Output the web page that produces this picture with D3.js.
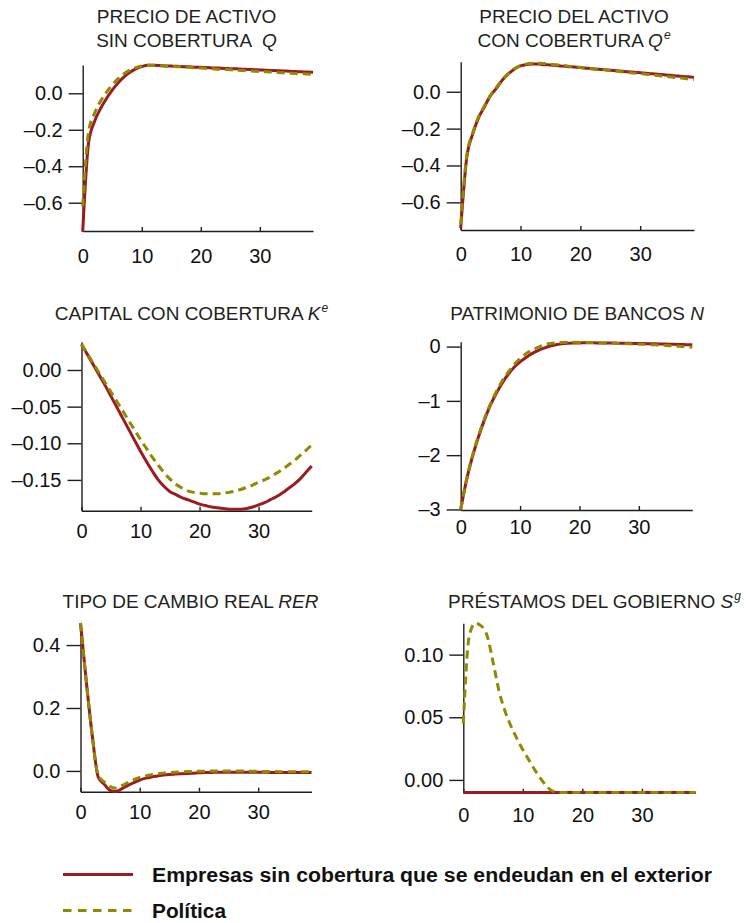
<!DOCTYPE html>
<html>
<head>
<meta charset="utf-8">
<script src="https://cdn.jsdelivr.net/npm/d3@7"></script>
<style>
  html, body { margin: 0; padding: 0; background: #fff; }
  svg { display: block; }
</style>
</head>
<body>
<div id="chart"></div>
<script>
// Impulse responses, periods 0..39
const periods = d3.range(0, 40);

const seriesNames = ["Empresas sin cobertura que se endeudan en el exterior", "Política"];

// Precio de activo sin cobertura Q
const qUnhedged = [-0.76, -0.27, -0.155, -0.085, -0.03, 0.017, 0.057, 0.09, 0.115, 0.134,
  0.146, 0.153, 0.153, 0.152, 0.150, 0.149, 0.148, 0.146, 0.145, 0.143,
  0.142, 0.141, 0.139, 0.138, 0.136, 0.135, 0.134, 0.132, 0.131, 0.129,
  0.128, 0.126, 0.125, 0.124, 0.122, 0.121, 0.119, 0.118, 0.116, 0.115];
const qPolicy = [-0.62, -0.21, -0.11, -0.045, 0.005, 0.045, 0.08, 0.107, 0.127, 0.141,
  0.150, 0.154, 0.153, 0.151, 0.149, 0.147, 0.146, 0.144, 0.142, 0.140,
  0.138, 0.136, 0.134, 0.132, 0.131, 0.129, 0.127, 0.125, 0.123, 0.121,
  0.119, 0.118, 0.116, 0.114, 0.112, 0.110, 0.108, 0.107, 0.105, 0.103];

// Precio del activo con cobertura Qe
const qeUnhedged = [-0.74, -0.36, -0.23, -0.14, -0.08, -0.02, 0.02, 0.065, 0.098, 0.124,
  0.140, 0.148, 0.151, 0.150, 0.147, 0.145, 0.142, 0.139, 0.136, 0.134,
  0.131, 0.128, 0.125, 0.122, 0.120, 0.117, 0.114, 0.111, 0.108, 0.106,
  0.103, 0.100, 0.097, 0.095, 0.092, 0.089, 0.086, 0.083, 0.081, 0.078];
const qePolicy = [-0.72, -0.35, -0.225, -0.135, -0.075, -0.018, 0.025, 0.068, 0.100, 0.126,
  0.142, 0.150, 0.154, 0.155, 0.153, 0.150, 0.146, 0.143, 0.139, 0.136,
  0.132, 0.129, 0.125, 0.122, 0.119, 0.115, 0.112, 0.108, 0.105, 0.101,
  0.098, 0.095, 0.091, 0.088, 0.084, 0.081, 0.077, 0.074, 0.070, 0.067];

// Capital con cobertura Ke
const keUnhedged = [0.035, 0.021, 0.007, -0.007, -0.021, -0.036, -0.051, -0.066, -0.081, -0.096,
  -0.111, -0.125, -0.138, -0.150, -0.159, -0.166, -0.170, -0.174, -0.177, -0.180,
  -0.183, -0.185, -0.187, -0.188, -0.189, -0.190, -0.190, -0.190, -0.189, -0.187,
  -0.184, -0.181, -0.177, -0.173, -0.168, -0.162, -0.156, -0.149, -0.140, -0.131];
const kePolicy = [0.035, 0.022, 0.009, -0.004, -0.017, -0.030, -0.043, -0.056, -0.069, -0.082,
  -0.095, -0.107, -0.119, -0.130, -0.140, -0.149, -0.156, -0.161, -0.165, -0.167,
  -0.168, -0.169, -0.169, -0.169, -0.168, -0.167, -0.165, -0.163, -0.160, -0.157,
  -0.153, -0.150, -0.146, -0.141, -0.136, -0.130, -0.124, -0.117, -0.110, -0.102];

// Patrimonio de bancos N
const nUnhedged = [-3.00, -2.45, -2.02, -1.66, -1.35, -1.08, -0.86, -0.67, -0.51, -0.38,
  -0.28, -0.20, -0.13, -0.075, -0.03, 0.01, 0.035, 0.05, 0.06, 0.065,
  0.068, 0.069, 0.069, 0.068, 0.067, 0.066, 0.064, 0.063, 0.061, 0.059,
  0.057, 0.055, 0.052, 0.050, 0.047, 0.044, 0.041, 0.038, 0.035, 0.032];
const nPolicy = [-3.00, -2.44, -2.00, -1.64, -1.33, -1.06, -0.83, -0.63, -0.47, -0.33,
  -0.22, -0.13, -0.065, -0.015, 0.03, 0.055, 0.07, 0.076, 0.078, 0.078,
  0.077, 0.075, 0.073, 0.070, 0.067, 0.064, 0.061, 0.057, 0.053, 0.049,
  0.045, 0.041, 0.036, 0.031, 0.025, 0.017, 0.010, 0.004, -0.003, -0.010];

// Tipo de cambio real RER
const rerUnhedged = [0.47, 0.28, 0.11, -0.02, -0.042, -0.062, -0.065, -0.056, -0.046, -0.037,
  -0.029, -0.023, -0.019, -0.016, -0.013, -0.011, -0.010, -0.009, -0.008, -0.007,
  -0.006, -0.005, -0.005, -0.004, -0.004, -0.004, -0.004, -0.004, -0.004, -0.004,
  -0.004, -0.004, -0.005, -0.005, -0.005, -0.005, -0.005, -0.005, -0.005, -0.005];
const rerPolicy = [0.47, 0.28, 0.11, -0.015, -0.035, -0.050, -0.055, -0.047, -0.037, -0.028,
  -0.021, -0.016, -0.012, -0.009, -0.007, -0.005, -0.004, -0.003, -0.002, -0.002,
  -0.001, -0.001, 0.000, 0.000, 0.000, 0.000, 0.000, 0.000, -0.001, -0.001,
  -0.001, -0.002, -0.002, -0.002, -0.003, -0.003, -0.003, -0.003, -0.003, -0.003];

// Préstamos del gobierno Sg
const sgUnhedged = [-0.01, -0.01, -0.01, -0.01, -0.01, -0.01, -0.01, -0.01, -0.01, -0.01,
  -0.01, -0.01, -0.01, -0.01, -0.01, -0.01, -0.01, -0.01, -0.01, -0.01,
  -0.01, -0.01, -0.01, -0.01, -0.01, -0.01, -0.01, -0.01, -0.01, -0.01,
  -0.01, -0.01, -0.01, -0.01, -0.01, -0.01, -0.01, -0.01, -0.01, -0.01];
const sgPolicy = [0.045, 0.115, 0.125, 0.123, 0.115, 0.094, 0.071, 0.055, 0.043, 0.033,
  0.024, 0.016, 0.008, 0.001, -0.005, -0.009, -0.01, -0.01, -0.01, -0.01,
  -0.01, -0.01, -0.01, -0.01, -0.01, -0.01, -0.01, -0.01, -0.01, -0.01,
  -0.01, -0.01, -0.01, -0.01, -0.01, -0.01, -0.01, -0.01, -0.01, -0.01];

// Tick values and labels
const xTicks = [0, 10, 20, 30];
const xTickLabels = ["0", "10", "20", "30"];
const qTicks = [0, -0.2, -0.4, -0.6];
const qTickLabels = ["0.0", "–0.2", "–0.4", "–0.6"];
const keTicks = [0, -0.05, -0.10, -0.15];
const keTickLabels = ["0.00", "–0.05", "–0.10", "–0.15"];
const nTicks = [0, -1, -2, -3];
const nTickLabels = ["0", "–1", "–2", "–3"];
const rerTicks = [0.4, 0.2, 0];
const rerTickLabels = ["0.4", "0.2", "0.0"];
const sgTicks = [0.10, 0.05, 0];
const sgTickLabels = ["0.10", "0.05", "0.00"];

const RED = "#9c1b1f";
const OLIVE = "#8f8a00";
const INK = "#1e1e1e";

// Panel layout
const panels = [
  { title: [[{ t: "PRECIO DE ACTIVO" }], [{ t: "SIN COBERTURA" }, { t: "Q", i: true, dx: 10 }]],
    tx: 186.5, ty: [23.3, 46.5],
    box: { l: 82.7, r: 313, t: 65, b: 231 }, yDom: [-0.755, 0.155],
    yTicks: qTicks, yLabels: qTickLabels, xPad: 18,
    a: qUnhedged, b: qPolicy },
  { title: [[{ t: "PRECIO DEL ACTIVO" }], [{ t: "CON COBERTURA " }, { t: "Q", i: true }, { t: "e", i: true, sup: true }]],
    tx: 574, ty: [23.3, 46.5],
    box: { l: 460.7, r: 694, t: 61.7, b: 230 }, yDom: [-0.75, 0.163],
    yTicks: qTicks, yLabels: qTickLabels, xPad: 17,
    a: qeUnhedged, b: qePolicy },
  { title: [[{ t: "CAPITAL CON COBERTURA " }, { t: "K", i: true }, { t: "e", i: true, sup: true }]],
    tx: 191.5, ty: [320],
    box: { l: 81.5, r: 311.7, t: 341.7, b: 510.7 }, yDom: [-0.192, 0.0386],
    yTicks: keTicks, yLabels: keTickLabels, xPad: 13,
    a: keUnhedged, b: kePolicy },
  { title: [[{ t: "PATRIMONIO DE BANCOS " }, { t: "N", i: true }]],
    tx: 577, ty: [320],
    box: { l: 460.7, r: 692.3, t: 341.7, b: 510 }, yDom: [-3.01, 0.09],
    yTicks: nTicks, yLabels: nTickLabels, xPad: 10,
    a: nUnhedged, b: nPolicy },
  { title: [[{ t: "TIPO DE CAMBIO REAL " }, { t: "RER", i: true }]],
    tx: 190.5, ty: [608.3],
    box: { l: 80.5, r: 311.5, t: 622.7, b: 791.7 }, yDom: [-0.066, 0.471],
    yTicks: rerTicks, yLabels: rerTickLabels, xPad: 13,
    a: rerUnhedged, b: rerPolicy },
  { title: [[{ t: "PRÉSTAMOS DEL GOBIERNO " }, { t: "S", i: true }, { t: "g", i: true, sup: true }]],
    tx: 594.5, ty: [608.3],
    box: { l: 463.3, r: 695.5, t: 623.3, b: 792.7 }, yDom: [-0.0102, 0.125],
    yTicks: sgTicks, yLabels: sgTickLabels, xPad: 15,
    a: sgUnhedged, b: sgPolicy }
];

const W = 748, H = 923;
const FONT = "'Liberation Sans', Arial, Helvetica, sans-serif";

const svg = d3.select("#chart").append("svg")
  .attr("width", W).attr("height", H)
  .attr("viewBox", `0 0 ${W} ${H}`)
  .style("font-family", FONT);

svg.append("rect").attr("width", W).attr("height", H).attr("fill", "#fff");

panels.forEach(p => {
  const g = svg.append("g");
  const x = d3.scaleLinear().domain([0, 39]).range([p.box.l, p.box.r]);
  const y = d3.scaleLinear().domain(p.yDom).range([p.box.b, p.box.t]);

  // Title lines
  p.title.forEach((line, li) => {
    const t = g.append("text")
      .attr("x", p.tx).attr("y", p.ty[li])
      .attr("text-anchor", "middle")
      .attr("font-size", 19).attr("fill", "#231f20");
    line.forEach(part => {
      const ts = t.append("tspan").text(part.t);
      if (part.i) ts.attr("font-style", "italic");
      if (part.dx) ts.attr("dx", part.dx);
      if (part.sup) ts.attr("font-size", 12).attr("dy", -8).attr("dx", 1);
    });
  });

  // Y axis
  const yAxis = d3.axisLeft(y)
    .tickValues(p.yTicks)
    .tickFormat((d, i) => p.yLabels[i])
    .tickSizeInner(14).tickSizeOuter(0).tickPadding(6);
  const ya = g.append("g").attr("transform", `translate(${p.box.l},0)`).call(yAxis);
  ya.select(".domain").attr("stroke", INK).attr("stroke-width", 1.4);
  ya.selectAll(".tick line").attr("stroke", INK).attr("stroke-width", 1.4);
  ya.selectAll(".tick text").attr("font-size", 20).attr("fill", "#111").attr("font-family", FONT);

  // X axis, ticks pointing inward
  const xAxis = d3.axisBottom(x)
    .tickValues(xTicks)
    .tickFormat((d, i) => xTickLabels[i])
    .tickSizeInner(-4).tickSizeOuter(0).tickPadding(p.xPad);
  const xa = g.append("g").attr("transform", `translate(0,${p.box.b})`).call(xAxis);
  xa.select(".domain").attr("stroke", INK).attr("stroke-width", 1.4);
  xa.selectAll(".tick line").attr("stroke", INK).attr("stroke-width", 1.4);
  xa.selectAll(".tick text").attr("font-size", 20).attr("fill", "#111").attr("font-family", FONT);

  const line = d3.line()
    .x((d, i) => x(periods[i]))
    .y(d => y(d))
    .curve(d3.curveMonotoneX);

  g.append("path").datum(p.a)
    .attr("d", line).attr("fill", "none")
    .attr("stroke", RED).attr("stroke-width", 3);
  g.append("path").datum(p.b)
    .attr("d", line).attr("fill", "none")
    .attr("stroke", OLIVE).attr("stroke-width", 3)
    .attr("stroke-dasharray", "8,5");
});

// Legend
const legend = svg.append("g");
const legendRows = [
  { name: seriesNames[0], color: RED, dash: null, ly: 874.5, ty: 881.5, len: 560 },
  { name: seriesNames[1], color: OLIVE, dash: "8.5,6.5", ly: 910.5, ty: 918, len: 74 }
];
legendRows.forEach(r => {
  legend.append("line")
    .attr("x1", 63).attr("x2", 133).attr("y1", r.ly).attr("y2", r.ly)
    .attr("stroke", r.color).attr("stroke-width", 3)
    .attr("stroke-dasharray", r.dash);
  legend.append("text")
    .attr("x", 152).attr("y", r.ty)
    .attr("font-size", 20).attr("font-weight", "bold").attr("fill", "#111")
    .attr("textLength", r.len).attr("lengthAdjust", "spacingAndGlyphs")
    .text(r.name);
});
</script>
</body>
</html>
